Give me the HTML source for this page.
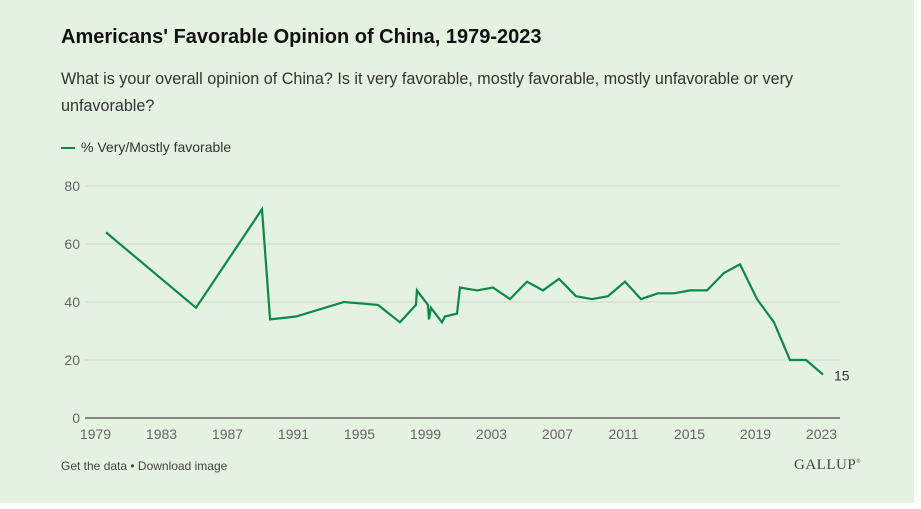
<!DOCTYPE html>
<html><head><meta charset="utf-8"><style>
body{margin:0;background:#fff;}
#card{position:absolute;left:0;top:0;width:914px;height:503px;background:#e5f1e1;font-family:"Liberation Sans",sans-serif;}
.t{position:absolute;white-space:nowrap;}
</style></head><body>
<div id="card">
<div class="t" style="left:61px;top:26px;font-size:20px;font-weight:bold;color:#111;">Americans' Favorable Opinion of China, 1979-2023</div>
<div class="t" style="left:61px;top:66px;font-size:16.15px;line-height:27px;color:#333;white-space:normal;width:760px;">What is your overall opinion of China? Is it very favorable, mostly favorable, mostly unfavorable or very unfavorable?</div>
<div class="t" style="left:61px;top:139px;font-size:14px;color:#333;"><span style="display:inline-block;width:14px;height:2px;background:#0a8a4a;vertical-align:middle;margin-right:6px;"></span>% Very/Mostly favorable</div>
<svg id="chart" width="914" height="450" style="position:absolute;left:0;top:0"></svg>
<div class="t" style="left:61px;top:459px;font-size:12px;color:#444;">Get the data • Download image</div>
<div class="t" style="left:794px;top:457px;font-size:15px;font-family:'Liberation Serif',serif;color:#444;letter-spacing:0.5px;">GALLUP<sup style="font-size:6px">®</sup></div>
</div>
<script>
const years=[1979.64,1985.09,1989.09,1989.58,1991.15,1994.06,1996.12,1997.45,1998.42,1998.48,1999.15,1999.21,1999.33,2000.0,2000.18,2000.91,2001.09,2002.12,2003.09,2004.12,2005.15,2006.12,2007.09,2008.12,2009.09,2010.06,2011.09,2012.06,2013.09,2014.06,2015.03,2016.06,2017.09,2018.06,2019.09,2020.12,2021.09,2022.06,2023.09];
const values=[64,38,72,34,35,40,39,33,39,44,39,34,38,33,35,36,45,44,45,41,47,44,48,42,41,42,47,41,43,43,44,44,50,53,41,33,20,20,15];
const xTicks=[1979,1983,1987,1991,1995,1999,2003,2007,2011,2015,2019,2023];
const yTicks=[0,20,40,60,80];
const NS='http://www.w3.org/2000/svg';
const svg=document.getElementById('chart');
const x=y=>95.5+(y-1979)*16.5;
const yy=v=>418-v*2.9;
function mk(t,a){const e=document.createElementNS(NS,t);for(const k in a)e.setAttribute(k,a[k]);svg.appendChild(e);return e;}
yTicks.forEach(v=>{
 const g=mk('line',{x1:85,x2:840,y1:yy(v),y2:yy(v),stroke:v===0?'#222':'#ccd8c8','stroke-width':1});
 
 
 const t=mk('text',{x:80,y:yy(v)+5,'text-anchor':'end','font-size':14,fill:'#666','font-family':'Liberation Sans, sans-serif'});
 t.textContent=v;
 
 
});
xTicks.forEach(v=>{
 const t=mk('text',{x:x(v),y:439,'text-anchor':'middle','font-size':14,fill:'#666','font-family':'Liberation Sans, sans-serif'});
 t.textContent=v;
 
 
});
const p=mk('polyline',{points:years.map((y,i)=>x(y)+','+yy(values[i])).join(' '),fill:'none',stroke:'#0a8a4a','stroke-width':2.2,'stroke-linejoin':'miter'});


const n=years.length-1;
const lb=mk('text',{x:x(years[n])+11,y:yy(values[n])+6,'font-size':14,fill:'#333','font-family':'Liberation Sans, sans-serif'});
lb.textContent=values[n];


</script>
</body></html>
